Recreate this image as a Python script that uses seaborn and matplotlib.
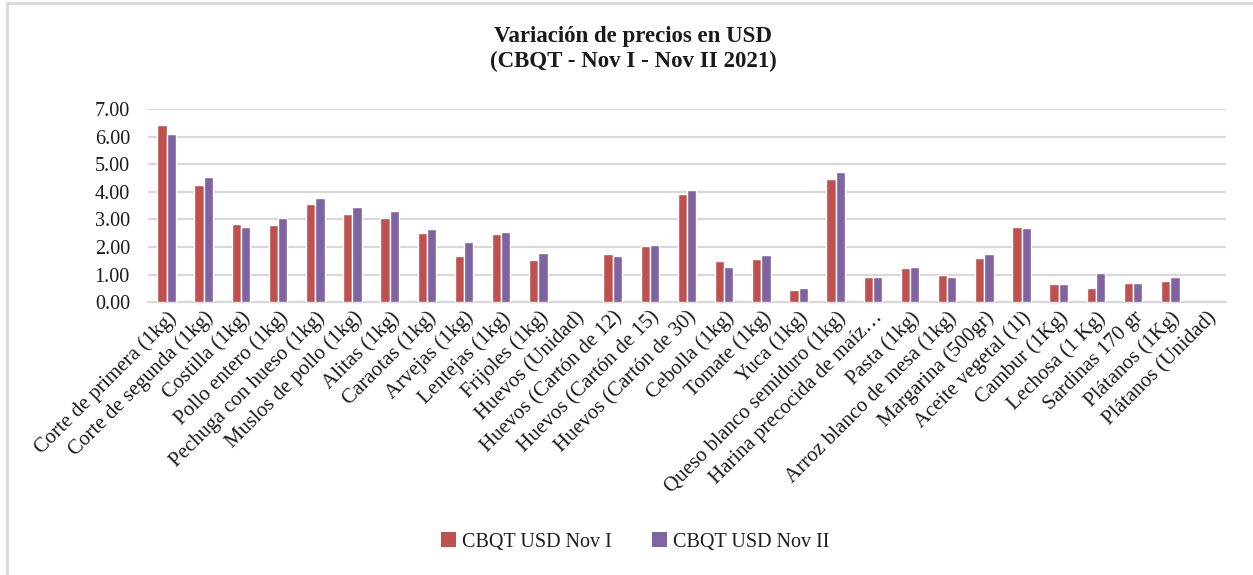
import numpy as np
import pandas as pd
import matplotlib
matplotlib.use("Agg")
import matplotlib.pyplot as plt
from matplotlib.lines import Line2D
from matplotlib.patches import Patch
from matplotlib.ticker import FormatStrFormatter
import seaborn as sns

categories = [
    "Corte de primera (1kg)", "Corte de segunda (1kg)", "Costilla (1kg)",
    "Pollo entero (1kg)", "Pechuga con hueso (1kg)", "Muslos de pollo (1kg)",
    "Alitas (1kg)", "Caraotas (1kg)", "Arvejas (1kg)", "Lentejas (1kg)",
    "Frijoles (1kg)", "Huevos (Unidad)", "Huevos (Cartón de 12)",
    "Huevos (Cartón de 15)", "Huevos (Cartón de 30)", "Cebolla (1kg)",
    "Tomate (1kg)", "Yuca (1kg)", "Queso blanco semiduro (1kg)",
    "Harina precocida de maíz…", "Pasta (1kg)", "Arroz blanco de mesa (1kg)",
    "Margarina (500gr)", "Aceite vegetal (1l)", "Cambur (1Kg)",
    "Lechosa (1 Kg)", "Sardinas 170 gr", "Plátanos (1Kg)", "Plátanos (Unidad)",
]
nov_i = [6.42, 4.25, 2.84, 2.79, 3.55, 3.20, 3.04, 2.51, 1.68, 2.47,
         1.53, np.nan, 1.74, 2.04, 3.92, 1.48, 1.57, 0.46, 4.47,
         0.92, 1.24, 0.99, 1.59, 2.73, 0.66, 0.52, 0.69, 0.78, np.nan]
nov_ii = [6.10, 4.52, 2.72, 3.05, 3.79, 3.44, 3.30, 2.66, 2.17, 2.55,
          1.77, np.nan, 1.68, 2.08, 4.07, 1.27, 1.73, 0.51, 4.72,
          0.92, 1.27, 0.92, 1.74, 2.70, 0.66, 1.07, 0.69, 0.92, np.nan]
series_names = ["CBQT USD Nov I", "CBQT USD Nov II"]
colors = ["#C0504D", "#8064A2"]
title = "Variación de precios en USD\n(CBQT - Nov I - Nov II 2021)"

df = pd.DataFrame({
    "Producto": categories * 2,
    "Serie": [series_names[0]] * len(categories) + [series_names[1]] * len(categories),
    "Precio": list(nov_i) + list(nov_ii),
})

sns.set_theme(style="white")
plt.rcParams["font.family"] = ["Liberation Serif", "DejaVu Serif"]

W, H = 1253, 575
fig = plt.figure(figsize=(W / 100, H / 100), dpi=100)
ax = fig.add_axes([148 / W, 1 - 302.3 / H, (1226 - 148) / W, (302.3 - 109) / H])

sns.barplot(data=df, x="Producto", y="Precio", hue="Serie",
            order=categories, hue_order=series_names,
            palette=colors, width=0.5, errorbar=None,
            edgecolor="white", linewidth=1.0, saturation=1,
            legend=False, ax=ax, zorder=3)

ax.set_xlim(-0.5, len(categories) - 0.5)
ax.set_ylim(0, 7)
ax.set_yticks(np.arange(0, 8, 1))
ax.yaxis.set_major_formatter(FormatStrFormatter("%.2f"))
ax.grid(axis="y", color="#D9D9D9", linewidth=1.6, zorder=0)
ax.grid(axis="x", visible=False)
ax.set_axisbelow(True)
for s in ["top", "right", "left"]:
    ax.spines[s].set_visible(False)
ax.spines["bottom"].set_color("#D9D9D9")
ax.spines["bottom"].set_linewidth(1.6)
ax.set_xlabel("")
ax.set_ylabel("")
ax.tick_params(axis="y", length=0, pad=13, labelsize=14.5, labelcolor="#1a1a1a")
ax.tick_params(axis="x", length=0, pad=4, labelsize=15, labelcolor="#1a1a1a")
plt.setp(ax.get_xticklabels(), rotation=45, ha="right", rotation_mode="anchor")

fig.text(633 / W, 1 - 49 / H, title, ha="center", va="center",
         fontsize=16.5, fontweight="bold", linespacing=1.25, color="#1a1a1a")

handles = [Patch(facecolor=c, edgecolor="none") for c in colors]
fig.legend(handles, series_names, loc="center", ncol=2,
           bbox_to_anchor=(635 / W, 1 - 542 / H), frameon=False,
           fontsize=14.5, handlelength=0.75, handleheight=0.75,
           handletextpad=0.3, columnspacing=2.0, labelcolor="#1a1a1a")

# chart border (left and top visible)
fig.add_artist(Line2D([7 / W, 7 / W], [0, 1 - 2.5 / H], color="#D9D9D9", linewidth=2))
fig.add_artist(Line2D([7 / W, 1], [1 - 2.5 / H, 1 - 2.5 / H], color="#D9D9D9", linewidth=2))

fig.savefig("out.png", dpi=100, facecolor="white")
